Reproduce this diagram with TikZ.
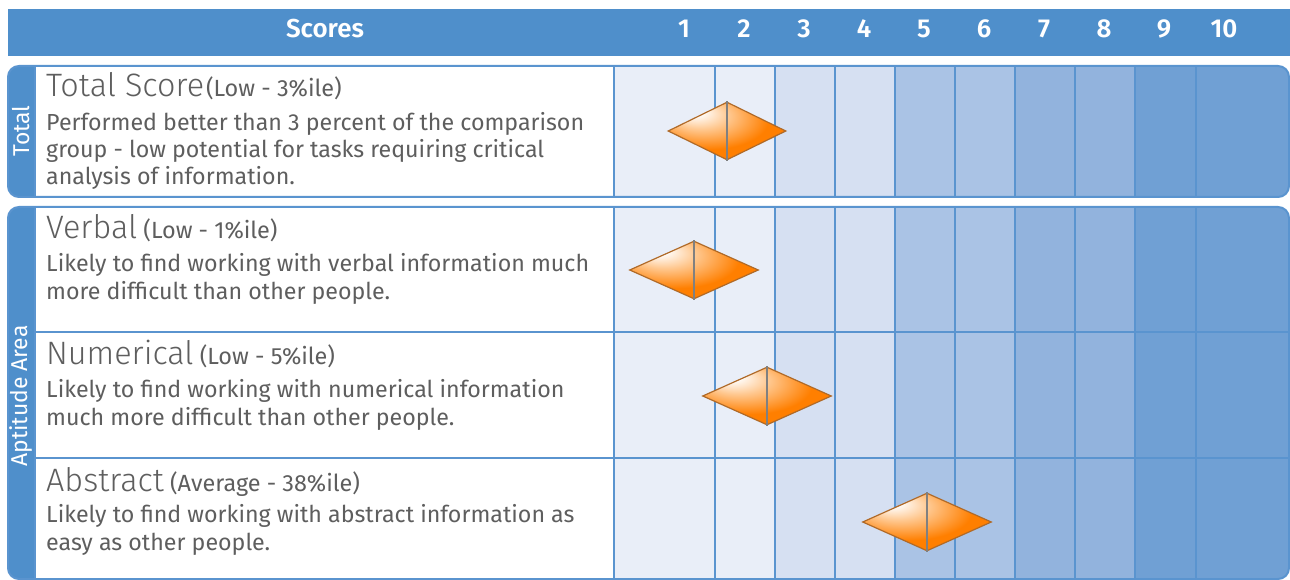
\documentclass[tikz,border=0pt]{standalone}
\usepackage{fontspec}
\setmainfont{Fira Sans}
\newfontfamily\lightfont{Fira Sans Light}
\newfontfamily\semifont{Fira Sans SemiBold}
\usetikzlibrary{shapes.geometric}
\definecolor{hdr}{HTML}{4F8FCB}
\definecolor{gridline}{HTML}{5A94CF}
\definecolor{colA}{HTML}{E9EEF8}
\definecolor{colB}{HTML}{D6E0F2}
\definecolor{colC}{HTML}{AAC3E5}
\definecolor{colD}{HTML}{92B3DD}
\definecolor{colE}{HTML}{70A0D4}
\definecolor{txt}{HTML}{5E5E5E}
\definecolor{mkorange}{HTML}{FF7F00}
\definecolor{mklight}{HTML}{FFC890}
\definecolor{mkline}{HTML}{B06A28}
\definecolor{mkmid}{HTML}{808080}
\pgfdeclareradialshading{glow}{\pgfpoint{-15bp}{18bp}}{color(0bp)=(white); color(3bp)=(white); color(12bp)=(mklight); color(25bp)=(mkorange); color(50bp)=(mkorange)}
\begin{document}
\begin{tikzpicture}[x=1bp,y=-1bp,
  hdrtext/.style={text=white, font=\semifont\fontsize{26}{26}\selectfont, inner sep=0, anchor=base},
  head/.style={text=txt, font=\fontsize{23.5}{23.5}\selectfont, inner sep=0, anchor=base west},
  body/.style={text=txt, font=\fontsize{23.3}{23.3}\selectfont, inner sep=0, anchor=base west},
  side/.style={text=white, font=\fontsize{23}{23}\selectfont, rotate=90, inner sep=0},
  marker/.style={diamond, minimum width=129bp, minimum height=58bp, inner sep=0, shading=glow, draw=mkline, line width=1.2bp},
  midline/.style={draw=mkmid, line width=1.2bp},
  panel/.style={draw=gridline, line width=2bp},
  gline/.style={draw=gridline, line width=1.5bp}]
\newcommand{\bighead}[1]{{\lightfont\fontsize{32.5}{32.5}\selectfont #1}}
\useasboundingbox (0,0) rectangle (1290,580);
% header
\fill[hdr] (8,9) rectangle (1292,56);
\node[hdrtext] (scores) at (325,38) {Scores};
\foreach \i in {1,...,10} \node[hdrtext] (n\i) at ({624+60*\i},38) {\i};
% panel Total
\begin{scope}
\clip[rounded corners=11bp] (8,66) rectangle (1289,197);
\fill[hdr] (8,66) rectangle (35,197);
\fill[white] (35,66) rectangle (614,197);
\fill[colA] (614,66) rectangle (775,197);
\fill[colB] (775,66) rectangle (895,197);
\fill[colC] (895,66) rectangle (1015,197);
\fill[colD] (1015,66) rectangle (1135,197);
\fill[colE] (1135,66) rectangle (1292,197);
\end{scope}
\foreach \x in {35,614,715,775,835,895,955,1015,1075,1135,1196} \draw[gline] (\x,66) -- (\x,197);
\draw[panel, rounded corners=11bp] (8,66) rectangle (1289,197);
% panel Aptitude
\begin{scope}
\clip[rounded corners=11bp] (8,207) rectangle (1289,579);
\fill[hdr] (8,207) rectangle (35,579);
\fill[white] (35,207) rectangle (614,579);
\fill[colA] (614,207) rectangle (775,579);
\fill[colB] (775,207) rectangle (895,579);
\fill[colC] (895,207) rectangle (1015,579);
\fill[colD] (1015,207) rectangle (1135,579);
\fill[colE] (1135,207) rectangle (1292,579);
\end{scope}
\foreach \x in {35,614,715,775,835,895,955,1015,1075,1135,1196} \draw[gline] (\x,207) -- (\x,579);
\foreach \y in {332,458} \draw[gline] (35,\y) -- (1292,\y);
\draw[panel, rounded corners=11bp] (8,207) rectangle (1289,579);
% side labels
\node[side] (sTotal) at (21,131) {Total};
\node[side] (sApt) at (21,396) {Aptitude Area};
% Total
\node[head] (hTotal) at (46,97) {\bighead{Total Score}\hspace{2bp}(Low - 3\%ile)};
\node[body] (bTotal1) at (46,131) {Performed better than 3 percent of the comparison};
\node[body] (bTotal2) at (46,158) {group - low potential for tasks requiring critical};
\node[body] (bTotal3) at (46,185) {analysis of information.};
% Verbal
\node[head] (hVerbal) at (46,239) {\bighead{Verbal} (Low - 1\%ile)};
\node[body] (bVerbal1) at (46,272) {Likely to find working with verbal information much};
\node[body] (bVerbal2) at (46,300) {more difficult than other people.};
% Numerical
\node[head] (hNum) at (46,365) {\bighead{Numerical} (Low - 5\%ile)};
\node[body] (bNum1) at (46,397) {Likely to find working with numerical information};
\node[body] (bNum2) at (46,425) {much more difficult than other people.};
% Abstract
\node[head] (hAbs) at (46,491) {\bighead{Abstract} (Average - 38\%ile)};
\node[body] (bAbs1) at (46,522) {Likely to find working with abstract information as};
\node[body] (bAbs2) at (46,550) {easy as other people.};
% markers
\node[marker, minimum width=118bp] (dTotal) at (727,131) {};
\draw[midline] (dTotal.north) -- (dTotal.south);
\node[marker] (dVerbal) at (694,270) {};
\draw[midline] (dVerbal.north) -- (dVerbal.south);
\node[marker] (dNum) at (767,396) {};
\draw[midline] (dNum.north) -- (dNum.south);
\node[marker] (dAbs) at (927,522) {};
\draw[midline] (dAbs.north) -- (dAbs.south);
\end{tikzpicture}
\end{document}
